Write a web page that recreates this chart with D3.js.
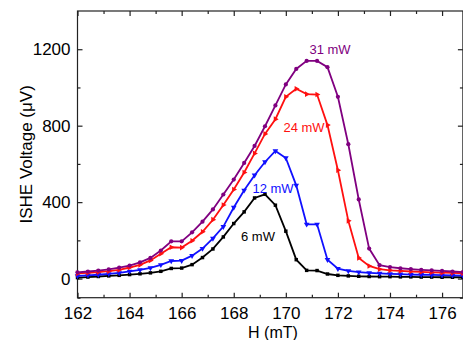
<!DOCTYPE html>
<html>
<head>
<meta charset="utf-8">
<script src="https://cdn.jsdelivr.net/npm/d3@7"></script>
<style>
  body { margin: 0; background: #fff; }
  svg { display: block; font-family: "Liberation Sans", Arial, sans-serif; }
  .tick text { font-size: 17px; fill: #000; }
</style>
</head>
<body>
<svg width="463" height="340"></svg>
<script>
// field values (mT), one point every 0.4 mT
const fields = d3.range(38).map((i) => +(162 + 0.4 * i).toFixed(1));

const v6mW = [5, 8, 11, 14, 17, 21, 25, 30, 38, 53, 55, 73, 110, 155, 218,
  288, 349, 422, 441, 384, 248, 99, 43, 42, 24, 17, 14, 12, 11, 10, 10, 9, 9, 8, 8, 7, 7, 7];
const v12mW = [14, 17, 20, 25, 30, 38, 46, 56, 72, 92, 94, 120, 157, 210, 272,
  372, 462, 541, 610, 668, 631, 488, 284, 284, 99, 52, 40, 34, 30, 27, 25, 23, 21, 20, 19, 18, 17, 16];
const v24mW = [27, 30, 34, 39, 46, 58, 72, 95, 130, 164, 162, 198, 245, 308, 385,
  466, 555, 655, 757, 834, 951, 993, 965, 963, 803, 567, 302, 108, 66, 49, 43, 40, 37, 35, 33, 31, 30, 28];
const v31mW = [33, 37, 42, 48, 57, 68, 85, 108, 147, 195, 195, 242, 298, 362, 440,
  518, 605, 694, 797, 906, 1016, 1097, 1139, 1139, 1106, 951, 703, 414, 157, 70, 60, 54, 50, 46, 43, 40, 37, 34];

const xTicks = [162, 164, 166, 168, 170, 172, 174, 176];
const yTicks = [0, 400, 800, 1200];

const series = [
  { name: "6 mW", values: v6mW, color: "#000000", symbol: d3.symbolSquare, size: 12, rot: 0, lx: 258, ly: 241 },
  { name: "12 mW", values: v12mW, color: "#1010ff", symbol: d3.symbolTriangle, size: 14, rot: 180, lx: 273, ly: 193 },
  { name: "24 mW", values: v24mW, color: "#ff1010", symbol: d3.symbolTriangle, size: 14, rot: 90, lx: 304, ly: 132 },
  { name: "31 mW", values: v31mW, color: "#800080", symbol: d3.symbolCircle, size: 14, rot: 0, lx: 330, ly: 54 }
];

const svg = d3.select("svg");
const mLeft = 77.5, mRight = 462.9, mTop = 11, mBottom = 297.7;

const x = d3.scaleLinear().domain([162, 176.8]).range([mLeft, mRight]);
const y = d3.scaleLinear().domain([-100, 1400]).range([mBottom, mTop]);

// frame
svg.append("rect")
  .attr("x", mLeft).attr("y", mTop)
  .attr("width", mRight - mLeft).attr("height", mBottom - mTop)
  .attr("fill", "none").attr("stroke", "#222").attr("stroke-width", 1.2);

// inward ticks, majors and minors
const axisStyle = (g) => {
  g.select(".domain").remove();
  g.selectAll(".tick line").attr("stroke", "#222").attr("stroke-width", 1.2);
};
const xMinor = d3.range(163, 177, 2);
const yMinor = [-100, 200, 600, 1000];

svg.append("g").attr("transform", `translate(0,${mBottom})`)
  .call(d3.axisBottom(x).tickValues(xTicks).tickFormat(d3.format("d")).tickSizeInner(-5).tickSizeOuter(0).tickPadding(9))
  .call(axisStyle);
svg.append("g").attr("transform", `translate(0,${mBottom})`)
  .call(d3.axisBottom(x).tickValues(xMinor).tickFormat("").tickSizeInner(-3).tickSizeOuter(0))
  .call(axisStyle);
svg.append("g").attr("transform", `translate(0,${mTop})`)
  .call(d3.axisTop(x).tickValues(xTicks).tickFormat("").tickSizeInner(-5).tickSizeOuter(0))
  .call(axisStyle);
svg.append("g").attr("transform", `translate(0,${mTop})`)
  .call(d3.axisTop(x).tickValues(xMinor).tickFormat("").tickSizeInner(-3).tickSizeOuter(0))
  .call(axisStyle);

svg.append("g").attr("transform", `translate(${mLeft},0)`)
  .call(d3.axisLeft(y).tickValues(yTicks).tickFormat(d3.format("d")).tickSizeInner(-5).tickSizeOuter(0).tickPadding(7))
  .call(axisStyle);
svg.append("g").attr("transform", `translate(${mLeft},0)`)
  .call(d3.axisLeft(y).tickValues(yMinor).tickFormat("").tickSizeInner(-3).tickSizeOuter(0))
  .call(axisStyle);
svg.append("g").attr("transform", `translate(${mRight},0)`)
  .call(d3.axisRight(y).tickValues(yTicks).tickFormat("").tickSizeInner(-5).tickSizeOuter(0))
  .call(axisStyle);
svg.append("g").attr("transform", `translate(${mRight},0)`)
  .call(d3.axisRight(y).tickValues(yMinor).tickFormat("").tickSizeInner(-3).tickSizeOuter(0))
  .call(axisStyle);

// axis titles
svg.append("text")
  .attr("x", 273).attr("y", 338)
  .attr("text-anchor", "middle")
  .attr("font-size", 16)
  .text("H (mT)");

svg.append("text")
  .attr("transform", `translate(32,${(mTop + mBottom) / 2}) rotate(-90)`)
  .attr("text-anchor", "middle")
  .attr("font-size", 17)
  .text("ISHE Voltage (\u03bcV)");

// curves
const line = d3.line()
  .x((d, i) => x(fields[i]))
  .y((d) => y(d));

const plot = svg.append("g");
series.forEach((s) => {
  const g = plot.append("g");
  g.append("path")
    .attr("d", line(s.values))
    .attr("fill", "none")
    .attr("stroke", s.color)
    .attr("stroke-width", 1.8);
  g.selectAll("path.mark")
    .data(s.values)
    .join("path")
    .attr("class", "mark")
    .attr("d", d3.symbol().type(s.symbol).size(s.size))
    .attr("transform", (d, i) => `translate(${x(fields[i])},${y(d)}) rotate(${s.rot})`)
    .attr("fill", s.color);
  svg.append("text")
    .attr("x", s.lx).attr("y", s.ly)
    .attr("text-anchor", "middle")
    .attr("font-size", 13)
    .attr("fill", s.color)
    .text(s.name);
});
</script>
</body>
</html>
